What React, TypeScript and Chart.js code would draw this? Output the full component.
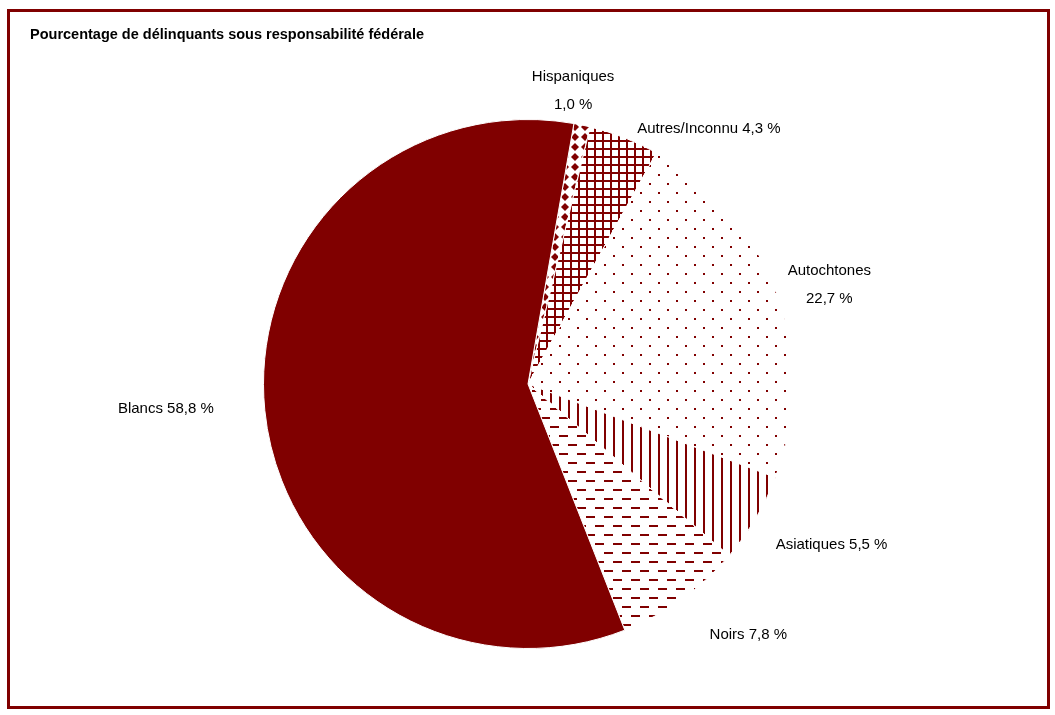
import { useEffect, useRef } from "react";
import Chart from "chart.js/auto";

const categories = ["Hispaniques", "Autres/Inconnu", "Autochtones", "Asiatiques", "Noirs", "Blancs"];
const shares = [1.0, 4.3, 22.7, 5.5, 7.8, 58.8];
// labels on two lines (name above value) vs one line
const twoLine = [true, false, true, false, false, false];

const TITLE = "Pourcentage de délinquants sous responsabilité fédérale";
const RED = "#800000";
const FONT = "'Liberation Sans', Arial, sans-serif";

// nudges from the arc's outer mid point to the label anchor
const labelNudge: [number, number][] = [
    [-9, -34],
    [13, -9],
    [53, -8],
    [20, 26],
    [28, 36],
    [-51, -2],
];

function tile(w: number, h: number, draw: (c: CanvasRenderingContext2D) => void) {
    const cv = document.createElement("canvas");
    cv.width = w;
    cv.height = h;
    const c = cv.getContext("2d")!;
    c.fillStyle = "#fff";
    c.fillRect(0, 0, w, h);
    c.fillStyle = RED;
    draw(c);
    return c.createPattern(cv, "repeat")!;
}

function makePatterns(): (CanvasPattern | string)[] {
    const diamonds = tile(10, 10, (c) => {
        c.beginPath();
        c.moveTo(5, 1);
        c.lineTo(9, 5);
        c.lineTo(5, 9);
        c.lineTo(1, 5);
        c.closePath();
        c.fill();
    });
    const grid = tile(8, 8, (c) => {
        c.fillRect(0, 0, 2, 8);
        c.fillRect(0, 0, 8, 2);
    });
    const dots = tile(18, 18, (c) => {
        c.fillRect(0, 0, 2, 2);
        c.fillRect(9, 9, 2, 2);
    });
    const vlines = tile(9, 4, (c) => {
        c.fillRect(0, 0, 2, 4);
    });
    const dashes = tile(18, 18, (c) => {
        c.fillRect(0, 0, 9, 2);
        c.fillRect(9, 9, 9, 2);
    });
    return [diamonds, grid, dots, vlines, dashes, RED];
}

const fmt = (v: number) => v.toFixed(1).replace(".", ",") + " %";

const labelPlugin = {
    id: "pieLabels",
    afterDraw(chart: any) {
        const ctx: CanvasRenderingContext2D = chart.ctx;
        ctx.save();
        ctx.fillStyle = "#000";
        ctx.font = `bold 14.5px ${FONT}`;
        ctx.textAlign = "left";
        ctx.textBaseline = "middle";
        ctx.fillText(TITLE, 20, 23);

        ctx.font = `15px ${FONT}`;
        const meta = chart.getDatasetMeta(0);
        meta.data.forEach((arc: any, i: number) => {
            const p = arc.getProps(["x", "y", "startAngle", "endAngle", "outerRadius"], true);
            const mid = (p.startAngle + p.endAngle) / 2;
            const ax = p.x + Math.cos(mid) * p.outerRadius + labelNudge[i][0];
            const ay = p.y + Math.sin(mid) * p.outerRadius + labelNudge[i][1];
            if (twoLine[i]) {
                ctx.textAlign = "center";
                ctx.fillText(categories[i], ax, ay - 14);
                ctx.fillText(fmt(shares[i]), ax, ay + 14);
            } else {
                ctx.textAlign = Math.cos(mid) >= 0 ? "left" : "right";
                ctx.fillText(`${categories[i]} ${fmt(shares[i])}`, ax, ay);
            }
        });
        ctx.restore();
    },
};

export default function App() {
    const canvasRef = useRef<HTMLCanvasElement | null>(null);
    const chartRef = useRef<Chart | null>(null);

    useEffect(() => {
        if (!canvasRef.current) return;
        if (chartRef.current) chartRef.current.destroy();

        chartRef.current = new Chart(canvasRef.current, {
            type: "pie",
            data: {
                labels: categories,
                datasets: [
                    {
                        data: shares,
                        backgroundColor: makePatterns() as any,
                        borderColor: "#ffffff",
                        borderWidth: 1,
                        hoverOffset: 0,
                    },
                ],
            },
            options: {
                responsive: false,
                animation: false,
                rotation: 10,
                layout: { padding: { left: 253, right: 254, top: 107, bottom: 57 } },
                plugins: {
                    legend: { display: false },
                    tooltip: { enabled: false },
                    title: { display: false },
                },
                events: [],
            },
            plugins: [labelPlugin],
        });

        return () => {
            chartRef.current?.destroy();
            chartRef.current = null;
        };
    }, []);

    return (
        <div
            style={{
                position: "absolute",
                left: 7,
                top: 9,
                width: 1037,
                height: 694,
                border: `3px solid ${RED}`,
                background: "#fff",
            }}
        >
            <canvas ref={canvasRef} width={1037} height={694} style={{ display: "block" }} />
        </div>
    );
}
